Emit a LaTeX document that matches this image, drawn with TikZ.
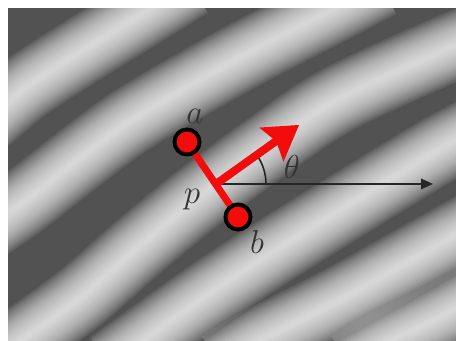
\documentclass[tikz,border=0pt]{standalone}
\usepackage{amsmath}
\usetikzlibrary{arrows}
\definecolor{bggray}{RGB}{82,82,82}
\definecolor{vecred}{RGB}{242,12,12}
\tikzset{every picture/.style={line width=0.75pt}}
\tikzset{
band/.style={white, line width=#1, opacity=0.09},
lbl/.style={inner sep=0pt, text=black!80, font=\fontsize{24.88}{30}\selectfont},
ring/.style={draw=black, line width=3pt, fill=vecred}}

\begin{document}
\begin{tikzpicture}[x=0.75pt,y=0.75pt,yscale=-1,xscale=1]
\useasboundingbox (0,0) rectangle (456,341);

%Shape: Rectangle [background]
\fill [bggray] (8,8) rectangle (456,341);
%Curve Lines [stripes]
\begin{scope}
\clip (8,8) rectangle (456,341);
\foreach \w in {68,64,...,4}{
\draw [band=\w*0.75pt] plot [smooth] coordinates {(-20,126) (25,88) (80,52) (135,18) (190,-16)};
\draw [band=\w*0.75pt] plot [smooth] coordinates {(-20,232) (25,201) (80,158) (135,118) (235,60) (335,8) (380,-16)};
\draw [band=\w*0.75pt] plot [smooth] coordinates {(-10,362) (25,338) (80,298) (135,250) (193,202) (260,152) (335,101) (438,53) (480,36)};
\draw [band=\w*0.75pt] plot [smooth] coordinates {(110,365) (143,341) (200,300) (260,260) (335,213) (438,150) (480,128)};
\draw [band=\w*0.75pt] plot [smooth] coordinates {(220,365) (260,341) (340,300) (438,245) (480,222)};
\draw [band=\w*0.75pt] plot [smooth] coordinates {(350,365) (383,345) (438,318) (480,295)};
}
\end{scope}

%Points
\coordinate (a) at (187,142);
\coordinate (b) at (238,217);
\coordinate (p) at (216,184);
\coordinate (xtip) at (433,184);
\coordinate (xend) at (426,184);
\coordinate (rtip) at (299,125);
\coordinate (rend) at (279,139);

%Straight Lines [horizontal axis]
\draw [color=black!85, line width=1.7pt] (p) -- (xend);
\draw [shift={(xtip)}, rotate = 180] [fill=black!85][line width=0.08] [draw opacity=0] (12,-5.5) -- (0,0) -- (12,5.5) -- cycle ;
%Shape: Arc [angle]
\draw [color=black!85, line width=1.2pt] (p) ++(50,0) arc (0:-36:50);

%Straight Lines [segment a-b]
\draw [color=vecred, line width=5.3pt] (a) -- (b);
%Straight Lines [direction]
\draw [color=vecred, line width=6pt] (p) -- (rend);
\draw [shift={(rtip)}, rotate = 144.6] [fill=vecred][line width=0.08] [draw opacity=0] (34,-21) -- (0,0) -- (34,21) -- (28,0) -- cycle ;

%Shape: Circle
\draw [ring] (a) circle (12.5);
%Shape: Circle
\draw [ring] (b) circle (12.5);

% Text Node
\node [lbl] (la) at (195,116) {$a$};
% Text Node
\node [lbl] (lp) at (192,200) {$p$};
% Text Node
\node [lbl] (lb) at (257,242) {$b$};
% Text Node
\node [lbl] (lt) at (292,167) {$\theta$};

\end{tikzpicture}
\end{document}
